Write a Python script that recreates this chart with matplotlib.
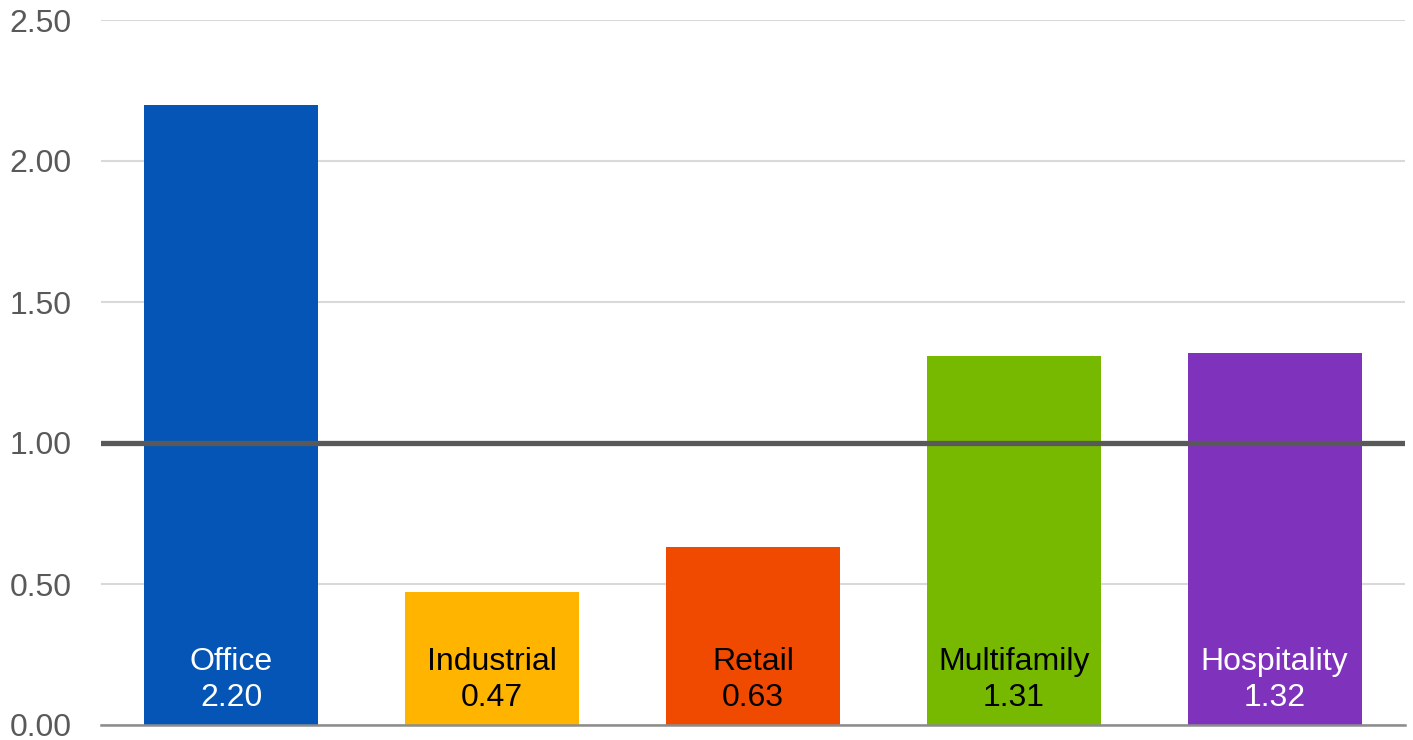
import matplotlib.pyplot as plt
import numpy as np

plt.rcParams['font.family'] = ['Liberation Sans', 'DejaVu Sans']

# datos por tipo de propiedad
sectores = ["Office", "Industrial", "Retail", "Multifamily", "Hospitality"]
valores = [2.20, 0.47, 0.63, 1.31, 1.32]
colores = ["#0455b5", "#ffb400", "#f04a00", "#76b900", "#7f33bc"]
color_texto = ["white", "black", "black", "black", "white"]
ticks_y = [0.0, 0.5, 1.0, 1.5, 2.0, 2.5]

fig = plt.figure(figsize=(14.13, 7.40), dpi=100)
ax = fig.add_axes([101 / 1413, 15 / 740, 1304 / 1413, 705 / 740])

x = np.arange(len(sectores))
ax.bar(x, valores, width=0.667, color=colores, zorder=2)

# linea de referencia en 1.0
ax.axhline(1.0, color="#595959", linewidth=3.8, zorder=3)

for i in range(len(sectores)):
    ax.text(x[i], 0.042, f"{sectores[i]}\n{valores[i]:.2f}", ha="center", va="bottom",
            fontsize=23, color=color_texto[i], linespacing=1.28, zorder=4)

ax.set_xlim(-0.5, len(sectores) - 0.5)
ax.set_ylim(0, 2.5)
ax.set_yticks(ticks_y)
ax.set_yticklabels([f"{t:.2f}" for t in ticks_y])
ax.set_xticks([])
ax.tick_params(axis="y", length=0, pad=21, labelsize=23, labelcolor="#595959")
ax.grid(axis="y", color="#d9d9d9", linewidth=1.5, zorder=0)
ax.set_axisbelow(True)

for lado in ["top", "right", "left"]:
    ax.spines[lado].set_visible(False)
ax.spines["bottom"].set_color("#8c8c8c")
ax.spines["bottom"].set_linewidth(1.8)
ax.spines["bottom"].set_zorder(5)

plt.savefig("out.png", dpi=100)
plt.close()
